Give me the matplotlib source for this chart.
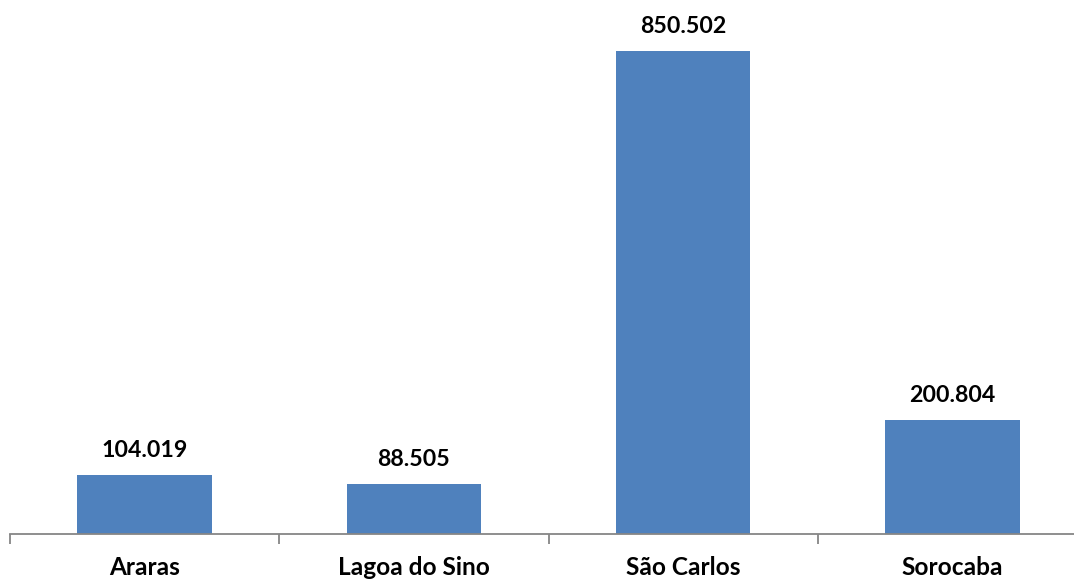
import matplotlib
matplotlib.use('Agg')
import matplotlib.pyplot as plt

# Data
campi = ['Araras', 'Lagoa do Sino', 'São Carlos', 'Sorocaba']
valores = [104.019, 88.505, 850.502, 200.804]
rotulos = ['104.019', '88.505', '850.502', '200.804']

plt.rcParams['font.family'] = ['Lato', 'DejaVu Sans']

fig = plt.figure(figsize=(10.74, 5.8), dpi=100)
# axes extends past the right edge, like the cropped original
ax = fig.add_axes([10 / 1074, 46 / 580, 1077 / 1074, 534 / 580])

x = range(len(campi))
ax.bar(x, valores, width=0.5, color='#4F81BD', zorder=2)

for xi, v, txt in zip(x, valores, rotulos):
    ax.annotate(txt, (xi, v), xytext=(0, 10), textcoords='offset points',
                ha='center', va='bottom', fontsize=16.7, fontweight='bold')

ax.set_xlim(-0.5, 3.5)
ax.set_ylim(0, 940)
ax.set_yticks([])
ax.set_xticks([-0.5, 0.5, 1.5, 2.5, 3.5])
ax.set_xticklabels([])
ax.set_xticks(list(x), minor=True)
ax.set_xticklabels(campi, minor=True, fontsize=17.6, fontweight='bold')
ax.tick_params(axis='x', which='major', length=7, width=1.3, color='#868686', direction='out')
ax.tick_params(axis='x', which='minor', length=0, pad=16)

for s in ['top', 'right', 'left']:
    ax.spines[s].set_visible(False)
ax.spines['bottom'].set_color('#868686')
ax.spines['bottom'].set_linewidth(1.3)

fig.savefig('out.png', dpi=100)
